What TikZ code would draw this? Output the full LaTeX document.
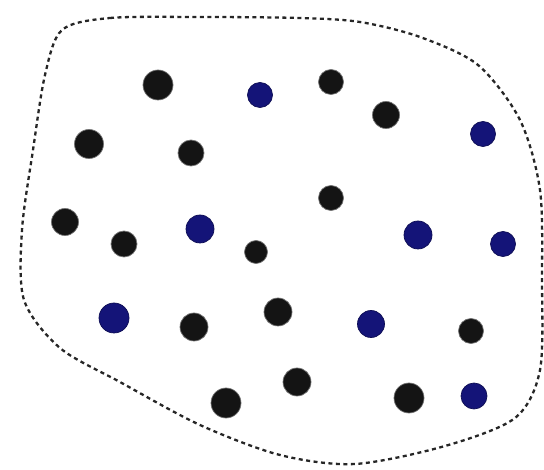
\documentclass[tikz,border=0pt]{standalone}
\usepackage{tikz}
\usetikzlibrary{calc}
\definecolor{dotblue}{RGB}{20,20,120}
\tikzset{
  line cap=round,
  line join=round,
  region/.style={draw=black!85, line width=2.3pt, dash pattern=on 4pt off 3.5pt, line cap=butt},
  dot/.style={circle, inner sep=0pt, draw=black!55, line width=0.7pt},
  blackdot/.style={dot, fill=black!92},
  bluedot/.style={dot, fill=dotblue, draw=dotblue!70!black}
}
\begin{document}
\begin{tikzpicture}[x=1pt,y=-1pt]
  \useasboundingbox (0,0) rectangle (544,470);

  % dashed outline of the set
  \draw[region] plot[smooth cycle, tension=0.5] coordinates {
    (62,30) (110,18) (200,17) (300,18) (360,22) (420,37) (478,65)
    (520,120) (540,190) (542,280) (540,370) (515,418) (445,446)
    (355,464) (280,455) (200,425) (120,382) (60,348) (24,300)
    (22,230) (33,150) (45,75)};

  % points
  \foreach \px/\py/\c/\d [count=\i] in {
    158/85/black/30, 260/95/blue/25, 331/82/black/25, 386/115/black/27,
    483/134/blue/25, 89/144/black/29, 191/153/black/26, 331/198/black/25,
    65/222/black/27, 124/244/black/26, 200/229/blue/28, 256/252/black/23,
    418/235/blue/28, 503/244/blue/25, 114/318/blue/30, 194/327/black/28,
    278/312/black/28, 371/324/blue/27, 471/331/black/25, 226/403/black/30,
    297/382/black/28, 409/398/black/30, 474/396/blue/26}
    \node[\c dot, minimum size=\d] (p\i) at (\px,\py) {};
\end{tikzpicture}
\end{document}
